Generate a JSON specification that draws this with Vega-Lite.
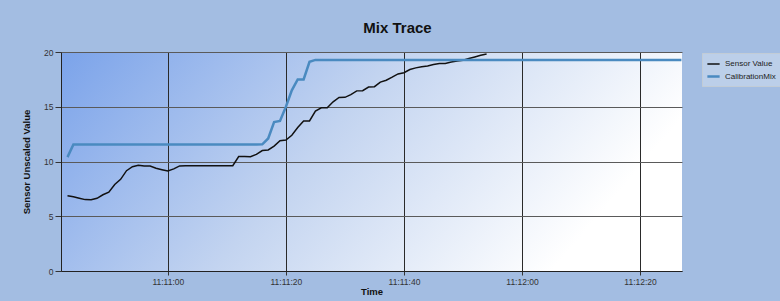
{
  "$schema": "https://vega.github.io/schema/vega-lite/v6.json",
  "width": 621,
  "height": 219,
  "autosize": {"type": "none"},
  "padding": {"left": 61, "top": 52, "right": 98, "bottom": 30},
  "background": "#a3bde2",
  "title": {"text": "Mix Trace", "fontSize": 15, "font": "Liberation Sans", "fontWeight": "bold", "color": "#111111", "anchor": "middle", "dx": 26, "offset": 12},
  "config": {
    "view": {"stroke": null, "fill": {"gradient": "linear", "x1": 0, "y1": 0, "x2": 1, "y2": 0.3, "stops": [{"offset": 0, "color": "#7ba3ea"}, {"offset": 0.5, "color": "#c3d4f0"}, {"offset": 1, "color": "#ffffff"}]}},
    "axis": {"labelFont": "Liberation Sans", "titleFont": "Liberation Sans", "labelColor": "#333333", "labelFontSize": 8.5, "titleFontSize": 9.5, "titleFontWeight": "bold", "titleColor": "#111111", "tickColor": "#333333", "domainColor": "#222222", "gridOpacity": 1}
  },
  "data": {"values": [
    {"t": "2024-01-01T11:10:43", "Sensor Value": 6.88, "CalibrationMix": 10.4},
    {"t": "2024-01-01T11:10:44", "Sensor Value": 6.79, "CalibrationMix": 11.55},
    {"t": "2024-01-01T11:10:45", "Sensor Value": 6.65, "CalibrationMix": 11.55},
    {"t": "2024-01-01T11:10:46", "Sensor Value": 6.52, "CalibrationMix": 11.55},
    {"t": "2024-01-01T11:10:47", "Sensor Value": 6.51, "CalibrationMix": 11.55},
    {"t": "2024-01-01T11:10:48", "Sensor Value": 6.64, "CalibrationMix": 11.55},
    {"t": "2024-01-01T11:10:49", "Sensor Value": 6.96, "CalibrationMix": 11.55},
    {"t": "2024-01-01T11:10:50", "Sensor Value": 7.2, "CalibrationMix": 11.55},
    {"t": "2024-01-01T11:10:51", "Sensor Value": 7.9, "CalibrationMix": 11.55},
    {"t": "2024-01-01T11:10:52", "Sensor Value": 8.37, "CalibrationMix": 11.55},
    {"t": "2024-01-01T11:10:53", "Sensor Value": 9.16, "CalibrationMix": 11.55},
    {"t": "2024-01-01T11:10:54", "Sensor Value": 9.53, "CalibrationMix": 11.55},
    {"t": "2024-01-01T11:10:55", "Sensor Value": 9.65, "CalibrationMix": 11.55},
    {"t": "2024-01-01T11:10:56", "Sensor Value": 9.6, "CalibrationMix": 11.55},
    {"t": "2024-01-01T11:10:57", "Sensor Value": 9.59, "CalibrationMix": 11.55},
    {"t": "2024-01-01T11:10:58", "Sensor Value": 9.38, "CalibrationMix": 11.55},
    {"t": "2024-01-01T11:10:59", "Sensor Value": 9.25, "CalibrationMix": 11.55},
    {"t": "2024-01-01T11:11:00", "Sensor Value": 9.13, "CalibrationMix": 11.55},
    {"t": "2024-01-01T11:11:01", "Sensor Value": 9.33, "CalibrationMix": 11.55},
    {"t": "2024-01-01T11:11:02", "Sensor Value": 9.6, "CalibrationMix": 11.55},
    {"t": "2024-01-01T11:11:03", "Sensor Value": 9.62, "CalibrationMix": 11.55},
    {"t": "2024-01-01T11:11:04", "Sensor Value": 9.62, "CalibrationMix": 11.55},
    {"t": "2024-01-01T11:11:05", "Sensor Value": 9.62, "CalibrationMix": 11.55},
    {"t": "2024-01-01T11:11:06", "Sensor Value": 9.62, "CalibrationMix": 11.55},
    {"t": "2024-01-01T11:11:07", "Sensor Value": 9.62, "CalibrationMix": 11.55},
    {"t": "2024-01-01T11:11:08", "Sensor Value": 9.62, "CalibrationMix": 11.55},
    {"t": "2024-01-01T11:11:09", "Sensor Value": 9.62, "CalibrationMix": 11.55},
    {"t": "2024-01-01T11:11:10", "Sensor Value": 9.62, "CalibrationMix": 11.55},
    {"t": "2024-01-01T11:11:11", "Sensor Value": 9.62, "CalibrationMix": 11.55},
    {"t": "2024-01-01T11:11:12", "Sensor Value": 10.45, "CalibrationMix": 11.55},
    {"t": "2024-01-01T11:11:13", "Sensor Value": 10.45, "CalibrationMix": 11.55},
    {"t": "2024-01-01T11:11:14", "Sensor Value": 10.44, "CalibrationMix": 11.55},
    {"t": "2024-01-01T11:11:15", "Sensor Value": 10.65, "CalibrationMix": 11.55},
    {"t": "2024-01-01T11:11:16", "Sensor Value": 11.0, "CalibrationMix": 11.57},
    {"t": "2024-01-01T11:11:17", "Sensor Value": 11.05, "CalibrationMix": 12.1},
    {"t": "2024-01-01T11:11:18", "Sensor Value": 11.4, "CalibrationMix": 13.6},
    {"t": "2024-01-01T11:11:19", "Sensor Value": 11.9, "CalibrationMix": 13.7},
    {"t": "2024-01-01T11:11:20", "Sensor Value": 11.96, "CalibrationMix": 15.0},
    {"t": "2024-01-01T11:11:21", "Sensor Value": 12.4, "CalibrationMix": 16.5},
    {"t": "2024-01-01T11:11:22", "Sensor Value": 13.1, "CalibrationMix": 17.5},
    {"t": "2024-01-01T11:11:23", "Sensor Value": 13.7, "CalibrationMix": 17.5},
    {"t": "2024-01-01T11:11:24", "Sensor Value": 13.7, "CalibrationMix": 19.1},
    {"t": "2024-01-01T11:11:25", "Sensor Value": 14.6, "CalibrationMix": 19.28},
    {"t": "2024-01-01T11:11:26", "Sensor Value": 14.9, "CalibrationMix": 19.28},
    {"t": "2024-01-01T11:11:27", "Sensor Value": 14.9, "CalibrationMix": 19.28},
    {"t": "2024-01-01T11:11:28", "Sensor Value": 15.45, "CalibrationMix": 19.28},
    {"t": "2024-01-01T11:11:29", "Sensor Value": 15.85, "CalibrationMix": 19.28},
    {"t": "2024-01-01T11:11:30", "Sensor Value": 15.86, "CalibrationMix": 19.28},
    {"t": "2024-01-01T11:11:31", "Sensor Value": 16.1, "CalibrationMix": 19.28},
    {"t": "2024-01-01T11:11:32", "Sensor Value": 16.45, "CalibrationMix": 19.28},
    {"t": "2024-01-01T11:11:33", "Sensor Value": 16.47, "CalibrationMix": 19.28},
    {"t": "2024-01-01T11:11:34", "Sensor Value": 16.8, "CalibrationMix": 19.28},
    {"t": "2024-01-01T11:11:35", "Sensor Value": 16.83, "CalibrationMix": 19.28},
    {"t": "2024-01-01T11:11:36", "Sensor Value": 17.25, "CalibrationMix": 19.28},
    {"t": "2024-01-01T11:11:37", "Sensor Value": 17.42, "CalibrationMix": 19.28},
    {"t": "2024-01-01T11:11:38", "Sensor Value": 17.7, "CalibrationMix": 19.28},
    {"t": "2024-01-01T11:11:39", "Sensor Value": 18.0, "CalibrationMix": 19.28},
    {"t": "2024-01-01T11:11:40", "Sensor Value": 18.11, "CalibrationMix": 19.28},
    {"t": "2024-01-01T11:11:41", "Sensor Value": 18.4, "CalibrationMix": 19.28},
    {"t": "2024-01-01T11:11:42", "Sensor Value": 18.55, "CalibrationMix": 19.28},
    {"t": "2024-01-01T11:11:43", "Sensor Value": 18.65, "CalibrationMix": 19.28},
    {"t": "2024-01-01T11:11:44", "Sensor Value": 18.73, "CalibrationMix": 19.28},
    {"t": "2024-01-01T11:11:45", "Sensor Value": 18.85, "CalibrationMix": 19.28},
    {"t": "2024-01-01T11:11:46", "Sensor Value": 18.94, "CalibrationMix": 19.28},
    {"t": "2024-01-01T11:11:47", "Sensor Value": 18.96, "CalibrationMix": 19.28},
    {"t": "2024-01-01T11:11:48", "Sensor Value": 19.08, "CalibrationMix": 19.28},
    {"t": "2024-01-01T11:11:49", "Sensor Value": 19.18, "CalibrationMix": 19.28},
    {"t": "2024-01-01T11:11:50", "Sensor Value": 19.25, "CalibrationMix": 19.28},
    {"t": "2024-01-01T11:11:51", "Sensor Value": 19.4, "CalibrationMix": 19.28},
    {"t": "2024-01-01T11:11:52", "Sensor Value": 19.55, "CalibrationMix": 19.28},
    {"t": "2024-01-01T11:11:53", "Sensor Value": 19.7, "CalibrationMix": 19.28},
    {"t": "2024-01-01T11:11:54", "Sensor Value": 19.82, "CalibrationMix": 19.28},
    {"t": "2024-01-01T11:11:55", "CalibrationMix": 19.28},
    {"t": "2024-01-01T11:11:56", "CalibrationMix": 19.28},
    {"t": "2024-01-01T11:11:57", "CalibrationMix": 19.28},
    {"t": "2024-01-01T11:11:58", "CalibrationMix": 19.28},
    {"t": "2024-01-01T11:11:59", "CalibrationMix": 19.28},
    {"t": "2024-01-01T11:12:00", "CalibrationMix": 19.28},
    {"t": "2024-01-01T11:12:01", "CalibrationMix": 19.28},
    {"t": "2024-01-01T11:12:02", "CalibrationMix": 19.28},
    {"t": "2024-01-01T11:12:03", "CalibrationMix": 19.28},
    {"t": "2024-01-01T11:12:04", "CalibrationMix": 19.28},
    {"t": "2024-01-01T11:12:05", "CalibrationMix": 19.28},
    {"t": "2024-01-01T11:12:06", "CalibrationMix": 19.28},
    {"t": "2024-01-01T11:12:07", "CalibrationMix": 19.28},
    {"t": "2024-01-01T11:12:08", "CalibrationMix": 19.28},
    {"t": "2024-01-01T11:12:09", "CalibrationMix": 19.28},
    {"t": "2024-01-01T11:12:10", "CalibrationMix": 19.28},
    {"t": "2024-01-01T11:12:11", "CalibrationMix": 19.28},
    {"t": "2024-01-01T11:12:12", "CalibrationMix": 19.28},
    {"t": "2024-01-01T11:12:13", "CalibrationMix": 19.28},
    {"t": "2024-01-01T11:12:14", "CalibrationMix": 19.28},
    {"t": "2024-01-01T11:12:15", "CalibrationMix": 19.28},
    {"t": "2024-01-01T11:12:16", "CalibrationMix": 19.28},
    {"t": "2024-01-01T11:12:17", "CalibrationMix": 19.28},
    {"t": "2024-01-01T11:12:18", "CalibrationMix": 19.28},
    {"t": "2024-01-01T11:12:19", "CalibrationMix": 19.28},
    {"t": "2024-01-01T11:12:20", "CalibrationMix": 19.28},
    {"t": "2024-01-01T11:12:21", "CalibrationMix": 19.28},
    {"t": "2024-01-01T11:12:22", "CalibrationMix": 19.28},
    {"t": "2024-01-01T11:12:23", "CalibrationMix": 19.28},
    {"t": "2024-01-01T11:12:24", "CalibrationMix": 19.28},
    {"t": "2024-01-01T11:12:25", "CalibrationMix": 19.28},
    {"t": "2024-01-01T11:12:26", "CalibrationMix": 19.28},
    {"t": "2024-01-01T11:12:27", "CalibrationMix": 19.28}
  ]},
  "transform": [
    {"fold": ["Sensor Value", "CalibrationMix"], "as": ["series", "value"]},
    {"filter": "isValid(datum.value)"}
  ],
  "mark": {"type": "line", "clip": true},
  "encoding": {
    "x": {"field": "t", "type": "temporal", "title": "Time",
      "scale": {"domain": [{"year": 2024, "month": 1, "date": 1, "hours": 11, "minutes": 10, "seconds": 41, "milliseconds": 900}, {"year": 2024, "month": 1, "date": 1, "hours": 11, "minutes": 12, "seconds": 27, "milliseconds": 100}]},
      "axis": {"format": "%H:%M:%S", "values": [
        {"year": 2024, "month": 1, "date": 1, "hours": 11, "minutes": 11, "seconds": 0},
        {"year": 2024, "month": 1, "date": 1, "hours": 11, "minutes": 11, "seconds": 20},
        {"year": 2024, "month": 1, "date": 1, "hours": 11, "minutes": 11, "seconds": 40},
        {"year": 2024, "month": 1, "date": 1, "hours": 11, "minutes": 12, "seconds": 0},
        {"year": 2024, "month": 1, "date": 1, "hours": 11, "minutes": 12, "seconds": 20}],
        "grid": true, "gridColor": "#2a2a2a", "gridWidth": 1, "tickSize": 4, "labelPadding": 2, "titlePadding": 1, "labelFlush": false}},
    "y": {"field": "value", "type": "quantitative", "title": "Sensor Unscaled Value",
      "scale": {"domain": [0, 20], "nice": false},
      "axis": {"values": [0, 5, 10, 15, 20], "grid": true, "gridColor": "#5a5a5a", "gridWidth": 1, "tickSize": 6, "labelPadding": 2, "titlePadding": 12}},
    "color": {"field": "series", "type": "nominal",
      "scale": {"domain": ["Sensor Value", "CalibrationMix"], "range": ["#111111", "#4a8ac0"]},
      "legend": {"title": null, "orient": "none", "legendX": 641, "legendY": 1, "symbolType": "stroke", "symbolSize": 150, "symbolStrokeWidth": 2, "labelFont": "Liberation Sans", "labelFontSize": 8, "labelColor": "#222222", "fillColor": "rgba(235,240,245,0.35)", "strokeColor": "#c2ccd6", "padding": 4, "rowPadding": 1, "labelOffset": 4}},
    "strokeWidth": {"field": "series", "type": "nominal",
      "scale": {"domain": ["Sensor Value", "CalibrationMix"], "range": [1.5, 2.5]}, "legend": null}
  }
}
